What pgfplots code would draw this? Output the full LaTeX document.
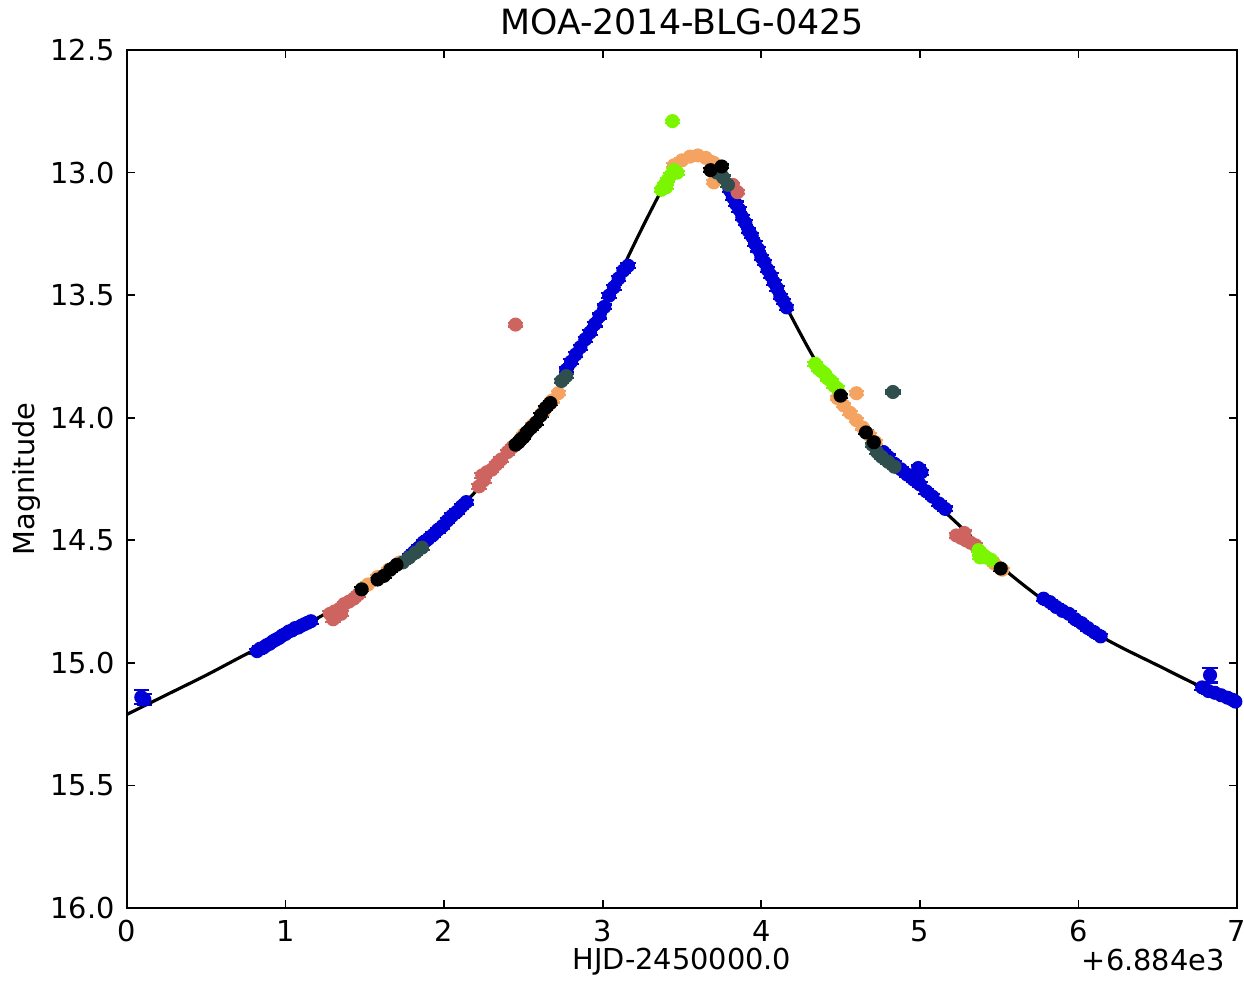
\documentclass[border=0pt]{standalone}
\usepackage{fontspec}
\setmainfont{DejaVu Sans}
\usepackage{pgfplots}
\pgfplotsset{compat=1.18}
\definecolor{cblue}{RGB}{0,0,215}
\definecolor{cred}{RGB}{205,100,95}
\definecolor{corange}{RGB}{244,164,96}
\definecolor{cgreen}{RGB}{124,245,0}
\definecolor{cslate}{RGB}{47,79,79}
\pgfplotsset{dat/.style={only marks, mark=*, mark size=1.8pt, color=#1,
  mark options={draw=#1, fill=#1},
  error bars/.cd, y dir=both, y explicit,
  error bar style={color=#1, line width=0.6pt},
  error mark options={rotate=90, mark size=2.2pt, color=#1, line width=0.6pt}}}
\begin{document}
\begin{tikzpicture}
\begin{axis}[
  scale only axis, width=11.1cm, height=8.58cm,
  at={(0,0)}, anchor=south west,
  xmin=0, xmax=7, ymin=12.5, ymax=16, y dir=reverse,
  xtick={0,1,2,3,4,5,6,7}, ytick={12.5,13,13.5,14,14.5,15,15.5,16},
  yticklabel style={/pgf/number format/.cd, fixed, fixed zerofill, precision=1},
  /pgf/number format/assume math mode=true,
  tick label style={font=\fontsize{8.2}{10}\selectfont},
  major tick length=0.8mm, tick align=inside,
  tick style={black, line width=0.5pt},
  axis line style={line width=0.8pt},
  xlabel={HJD-2450000.0}, ylabel={Magnitude},
  x label style={at={(axis description cs:0.5,0)}, anchor=center, yshift=-5.4mm, font=\fontsize{8.2}{10}\selectfont},
  y label style={at={(axis description cs:-0.0901,0.5)}, anchor=center, font=\fontsize{8.2}{10}\selectfont},
  title={MOA-2014-BLG-0425},
  title style={at={(axis description cs:0.5,1)}, anchor=center, yshift=0.7mm, font=\fontsize{9.9}{12}\selectfont},
  clip=true,
]
% MOA (blue)
\addplot[dat=cblue] coordinates {
(0.09,15.140) +- (0,0.028) (0.11,15.150) +- (0,0.022)
(0.82,14.952) +- (0,0.010) (0.84,14.942) +- (0,0.010) (0.86,14.938) +- (0,0.010)
(0.88,14.928) +- (0,0.010) (0.90,14.922) +- (0,0.010) (0.92,14.912) +- (0,0.010)
(0.94,14.905) +- (0,0.010) (0.96,14.898) +- (0,0.010) (0.98,14.888) +- (0,0.010)
(1.00,14.882) +- (0,0.010) (1.02,14.872) +- (0,0.010) (1.04,14.868) +- (0,0.010)
(1.06,14.858) +- (0,0.010) (1.08,14.856) +- (0,0.010) (1.10,14.848) +- (0,0.010)
(1.12,14.842) +- (0,0.010) (1.14,14.836) +- (0,0.010) (1.16,14.830) +- (0,0.010)
(1.78,14.566) +- (0,0.010) (1.81,14.548) +- (0,0.010) (1.84,14.530) +- (0,0.010)
(1.87,14.508) +- (0,0.010) (1.90,14.494) +- (0,0.010) (1.93,14.478) +- (0,0.010)
(1.96,14.458) +- (0,0.010) (1.99,14.442) +- (0,0.010) (2.02,14.420) +- (0,0.010)
(2.05,14.400) +- (0,0.010) (2.08,14.384) +- (0,0.010) (2.11,14.362) +- (0,0.010)
(2.14,14.344) +- (0,0.010)
(2.77,13.805) +- (0,0.010) (2.80,13.772) +- (0,0.010) (2.83,13.742) +- (0,0.010)
(2.86,13.712) +- (0,0.010) (2.89,13.680) +- (0,0.010) (2.92,13.652) +- (0,0.010)
(2.95,13.618) +- (0,0.010) (2.98,13.585) +- (0,0.010) (3.01,13.548) +- (0,0.010)
(3.04,13.502) +- (0,0.010) (3.07,13.468) +- (0,0.010) (3.10,13.432) +- (0,0.010)
(3.13,13.400) +- (0,0.010) (3.16,13.380) +- (0,0.010)
(3.80,13.070) +- (0,0.010) (3.82,13.100) +- (0,0.010) (3.84,13.128) +- (0,0.010)
(3.86,13.150) +- (0,0.010) (3.88,13.182) +- (0,0.010) (3.90,13.205) +- (0,0.010)
(3.92,13.238) +- (0,0.010) (3.94,13.258) +- (0,0.010) (3.96,13.290) +- (0,0.010)
(3.98,13.312) +- (0,0.010) (4.00,13.345) +- (0,0.010) (4.02,13.366) +- (0,0.010)
(4.04,13.396) +- (0,0.010) (4.06,13.420) +- (0,0.010) (4.08,13.448) +- (0,0.010)
(4.10,13.472) +- (0,0.010) (4.12,13.505) +- (0,0.010) (4.14,13.525) +- (0,0.010)
(4.16,13.550) +- (0,0.010)
(4.77,14.140) +- (0,0.010) (4.80,14.160) +- (0,0.010) (4.84,14.188) +- (0,0.010)
(4.88,14.210) +- (0,0.010) (4.92,14.232) +- (0,0.010) (4.96,14.252) +- (0,0.010)
(4.99,14.205) +- (0,0.010) (5.01,14.222) +- (0,0.010)
(5.00,14.272) +- (0,0.010) (5.04,14.300) +- (0,0.010) (5.08,14.322) +- (0,0.010)
(5.12,14.350) +- (0,0.010) (5.16,14.372) +- (0,0.010)
(5.78,14.738) +- (0,0.010) (5.82,14.752) +- (0,0.010) (5.86,14.772) +- (0,0.010)
(5.90,14.788) +- (0,0.010) (5.94,14.800) +- (0,0.010) (5.98,14.822) +- (0,0.010)
(6.02,14.838) +- (0,0.010) (6.06,14.858) +- (0,0.010) (6.10,14.875) +- (0,0.010)
(6.14,14.892) +- (0,0.010)
(6.78,15.100) +- (0,0.010) (6.82,15.115) +- (0,0.010) (6.86,15.122) +- (0,0.010)
(6.90,15.132) +- (0,0.010) (6.94,15.142) +- (0,0.010) (6.97,15.150) +- (0,0.010)
(6.99,15.158) +- (0,0.010) (6.83,15.050) +- (0,0.030)
};
% red
\addplot[dat=cred] coordinates {
(2.45,13.620) +- (0,0.008)
(2.22,14.280) +- (0,0.010) (2.24,14.235) +- (0,0.010) (2.25,14.255) +- (0,0.010)
(2.27,14.222) +- (0,0.010) (2.30,14.212) +- (0,0.010) (2.33,14.190) +- (0,0.010)
(2.36,14.170) +- (0,0.010) (2.40,14.140) +- (0,0.010) (2.43,14.120) +- (0,0.010)
(1.28,14.800) +- (0,0.010) (1.30,14.822) +- (0,0.010) (1.31,14.790) +- (0,0.010)
(1.34,14.780) +- (0,0.010) (1.35,14.800) +- (0,0.010) (1.37,14.760) +- (0,0.010)
(1.40,14.750) +- (0,0.010) (1.43,14.738) +- (0,0.010) (1.46,14.720) +- (0,0.010)
(3.82,13.050) +- (0,0.008) (3.85,13.080) +- (0,0.008)
(5.23,14.480) +- (0,0.010) (5.26,14.490) +- (0,0.010) (5.28,14.470) +- (0,0.010)
(5.29,14.500) +- (0,0.010) (5.32,14.510) +- (0,0.010) (5.35,14.520) +- (0,0.010)
};
% orange
\addplot[dat=corange] coordinates {
(3.45,12.970) +- (0,0.008) (3.50,12.950) +- (0,0.008) (3.55,12.935) +- (0,0.008)
(3.60,12.930) +- (0,0.008) (3.65,12.940) +- (0,0.008) (3.70,12.960) +- (0,0.008)
(3.74,12.990) +- (0,0.008) (3.70,13.040) +- (0,0.008)
(2.50,14.070) +- (0,0.008) (2.56,14.030) +- (0,0.008) (2.62,13.980) +- (0,0.008)
(2.68,13.930) +- (0,0.008) (2.72,13.900) +- (0,0.008)
(1.52,14.680) +- (0,0.008) (1.58,14.650) +- (0,0.008) (1.65,14.620) +- (0,0.008)
(1.72,14.590) +- (0,0.008)
(4.48,13.920) +- (0,0.008) (4.52,13.950) +- (0,0.008) (4.56,13.980) +- (0,0.008)
(4.60,14.010) +- (0,0.008) (4.64,14.040) +- (0,0.008) (4.68,14.070) +- (0,0.008)
(4.72,14.100) +- (0,0.008) (4.60,13.900) +- (0,0.008)
(5.47,14.595) +- (0,0.008) (5.52,14.620) +- (0,0.008)
};
% green
\addplot[dat=cgreen] coordinates {
(3.44,12.790) +- (0,0.006)
(3.37,13.070) +- (0,0.008) (3.39,13.050) +- (0,0.008) (3.40,13.060) +- (0,0.008)
(3.41,13.030) +- (0,0.008) (3.43,13.010) +- (0,0.008) (3.45,12.990) +- (0,0.008)
(3.47,13.000) +- (0,0.008)
(4.34,13.780) +- (0,0.008) (4.36,13.800) +- (0,0.008) (4.38,13.810) +- (0,0.008)
(4.40,13.820) +- (0,0.008) (4.42,13.840) +- (0,0.008) (4.44,13.850) +- (0,0.008)
(4.46,13.870) +- (0,0.008) (4.48,13.880) +- (0,0.008)
(5.37,14.540) +- (0,0.008) (5.38,14.570) +- (0,0.008) (5.40,14.560) +- (0,0.008)
(5.42,14.570) +- (0,0.008) (5.45,14.580) +- (0,0.008)
};
% dark slate
\addplot[dat=cslate] coordinates {
(4.83,13.895) +- (0,0.006)
(2.74,13.850) +- (0,0.008) (2.77,13.830) +- (0,0.008)
(1.74,14.590) +- (0,0.008) (1.78,14.570) +- (0,0.008) (1.82,14.550) +- (0,0.008)
(1.86,14.530) +- (0,0.008)
(4.70,14.110) +- (0,0.008) (4.73,14.140) +- (0,0.008) (4.76,14.160) +- (0,0.008)
(4.80,14.180) +- (0,0.008) (4.84,14.200) +- (0,0.008)
(3.72,13.000) +- (0,0.008) (3.76,13.020) +- (0,0.008) (3.79,13.050) +- (0,0.008)
};
% black
\addplot[dat=black] coordinates {
(2.45,14.110) +- (0,0.008) (2.47,14.100) +- (0,0.008) (2.48,14.090) +- (0,0.008)
(2.50,14.080) +- (0,0.008) (2.52,14.060) +- (0,0.008) (2.55,14.040) +- (0,0.008)
(2.58,14.020) +- (0,0.008) (2.61,13.990) +- (0,0.008) (2.64,13.960) +- (0,0.008)
(2.67,13.940) +- (0,0.008)
(1.48,14.700) +- (0,0.008)
(1.58,14.660) +- (0,0.008) (1.62,14.645) +- (0,0.008) (1.66,14.620) +- (0,0.008)
(1.70,14.600) +- (0,0.008)
(3.68,12.990) +- (0,0.008) (3.75,12.975) +- (0,0.008)
(4.50,13.910) +- (0,0.008) (4.66,14.060) +- (0,0.008) (4.71,14.100) +- (0,0.008)
(5.51,14.615) +- (0,0.008)
};
% model
\addplot[black, line width=0.9pt, smooth, mark=none] coordinates {
(0.00,15.210) (0.25,15.130) (0.50,15.050) (0.75,14.965) (1.00,14.885)
(1.25,14.800) (1.50,14.700) (1.75,14.580) (2.00,14.430) (2.20,14.300)
(2.40,14.150) (2.60,14.000) (2.70,13.915) (2.80,13.810) (2.90,13.690)
(3.00,13.560) (3.10,13.425) (3.20,13.290) (3.30,13.160) (3.40,13.040)
(3.50,12.960) (3.58,12.940) (3.65,12.955) (3.70,12.985) (3.80,13.075)
(3.90,13.205) (4.00,13.340) (4.10,13.475) (4.20,13.600) (4.30,13.720)
(4.40,13.830) (4.50,13.925) (4.60,14.015) (4.75,14.130) (5.00,14.290)
(5.25,14.440) (5.50,14.600) (5.75,14.730) (6.00,14.840) (6.25,14.930)
(6.50,15.010) (6.75,15.090) (7.00,15.160)
};
\end{axis}
\node[anchor=east, font=\fontsize{8.2}{10}\selectfont] at (11.1cm,-5.2mm) {+6.884e3};
\pgfresetboundingbox
\path (-12.7mm,-7.2mm) rectangle (11.17cm,9.08cm);
\end{tikzpicture}
\end{document}
